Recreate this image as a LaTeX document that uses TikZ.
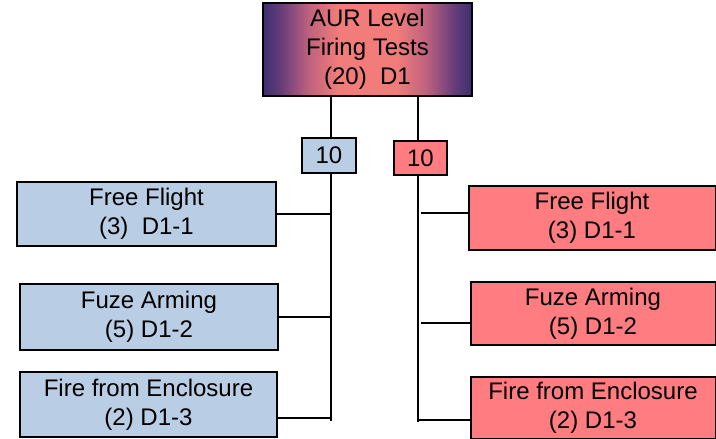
\documentclass[tikz,border=0pt]{standalone}
\usepackage{fontspec}
\setmainfont{Liberation Sans}
\definecolor{lblue}{RGB}{185,205,229}
\definecolor{lred}{RGB}{255,124,128}
\definecolor{cin}{RGB}{242,124,122}
\definecolor{cpink}{RGB}{190,98,126}
\definecolor{cmid}{RGB}{100,60,122}
\definecolor{cout}{RGB}{58,48,112}
\pgfdeclarehorizontalshading{aurshade}{100bp}{color(0bp)=(cout); color(25bp)=(cout); color(29bp)=(cmid); color(36bp)=(cpink); color(43bp)=(cin); color(57bp)=(cin); color(64bp)=(cpink); color(71bp)=(cmid); color(75bp)=(cout); color(100bp)=(cout)}
\begin{document}
\begin{tikzpicture}[x=1pt,y=-1pt,
  txt/.style={font=\fontsize{24}{29}\selectfont, align=center, inner sep=0pt},
  bbox/.style={txt, draw=black, line width=2pt, fill=lblue},
  rbox/.style={txt, draw=black, line width=2pt, fill=lred},
  conn/.style={line width=2pt, draw=black}]
\useasboundingbox (0,0) rectangle (716,439);
\begin{scope}
\clip (0,0) rectangle (716,439);
% top box
\node[txt, draw=black, line width=2pt, shading=aurshade, minimum width=209pt, minimum height=93pt] (top) at (367.5,49.5) {AUR Level\\Firing Tests\\(20)\ \ D1};
% count boxes
\node[bbox, minimum width=54pt, minimum height=35pt] (lten) at (329,155.5) {10};
\node[rbox, minimum width=53pt, minimum height=34pt] (rten) at (420.5,158) {10};
% left boxes
\node[bbox, minimum width=259pt, minimum height=64pt] (lff) at (146.5,214) {Free Flight\\(3)\ \ D1-1};
\node[bbox, minimum width=258pt, minimum height=66pt] (lfa) at (149,317) {Fuze Arming\\(5) D1-2};
\node[bbox, minimum width=257pt, minimum height=65pt] (lfe) at (148.5,404.5) {Fire from Enclosure\\(2) D1-3};
% right boxes
\node[rbox, minimum width=247pt, minimum height=64pt] (rff) at (592,218) {Free Flight\\(3) D1-1};
\node[rbox, minimum width=245pt, minimum height=63pt] (rfa) at (593,313.5) {Fuze Arming\\(5) D1-2};
\node[rbox, minimum width=245pt, minimum height=62pt] (rfe) at (593,408) {Fire from Enclosure\\(2) D1-3};
% connector guide coordinates
\coordinate (lv) at (331,0);
\coordinate (lvend) at (331,421);
\coordinate (rv) at (418,0);
\coordinate (rvend) at (418,422);
\coordinate (rg) at (421,0);
% left tree
\draw[conn] (top.south -| lv) -- (lten.north -| lv);
\draw[conn] (lten.south -| lv) -- (lvend);
\draw[conn] (lff.east) -- (lff.east -| lv);
\draw[conn] (lfa.east) -- (lfa.east -| lv);
\draw[conn] ([yshift=-13.5pt]lfe.east) -- ([yshift=-13.5pt]lfe.east -| lv);
% right tree
\draw[conn] (top.south -| rv) -- (rten.north -| rv);
\draw[conn] (rten.south -| rv) -- (rvend);
\draw[conn] ([yshift=5pt]rff.west) -- ([yshift=5pt]rff.west -| rg);
\draw[conn] ([yshift=-9.5pt]rfa.west) -- ([yshift=-9.5pt]rfa.west -| rg);
\draw[conn] ([yshift=-12pt]rfe.west) -- ([yshift=-12pt]rfe.west -| rv);
\end{scope}
\end{tikzpicture}
\end{document}
